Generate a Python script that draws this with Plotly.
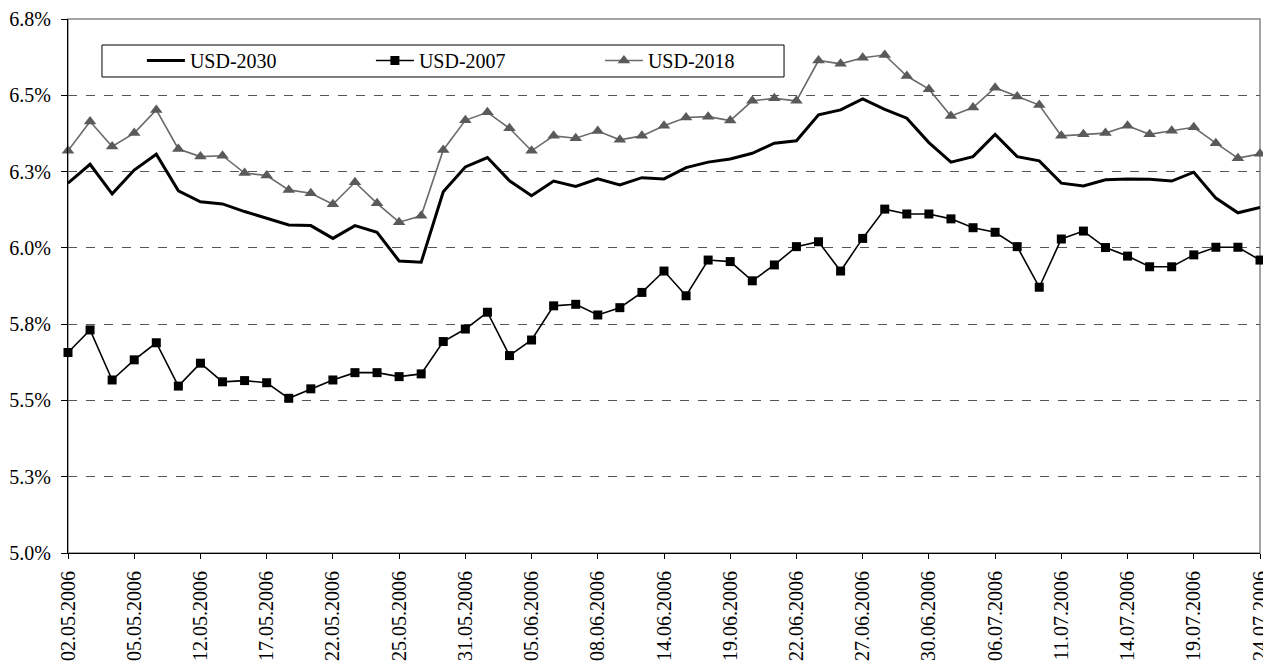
import plotly.graph_objects as go

dates = [
    "02.05.2006", "03.05.2006", "04.05.2006", "05.05.2006", "10.05.2006", "11.05.2006",
    "12.05.2006", "15.05.2006", "16.05.2006", "17.05.2006", "18.05.2006", "19.05.2006",
    "22.05.2006", "23.05.2006", "24.05.2006", "25.05.2006", "26.05.2006", "29.05.2006",
    "31.05.2006", "01.06.2006", "02.06.2006", "05.06.2006", "06.06.2006", "07.06.2006",
    "08.06.2006", "09.06.2006", "13.06.2006", "14.06.2006", "15.06.2006", "16.06.2006",
    "19.06.2006", "20.06.2006", "21.06.2006", "22.06.2006", "23.06.2006", "26.06.2006",
    "27.06.2006", "28.06.2006", "29.06.2006", "30.06.2006", "03.07.2006", "05.07.2006",
    "06.07.2006", "07.07.2006", "10.07.2006", "11.07.2006", "12.07.2006", "13.07.2006",
    "14.07.2006", "17.07.2006", "18.07.2006", "19.07.2006", "20.07.2006", "21.07.2006",
    "24.07.2006",
]

x_tick_labels = [
    "02.05.2006", "05.05.2006", "12.05.2006", "17.05.2006", "22.05.2006", "25.05.2006",
    "31.05.2006", "05.06.2006", "08.06.2006", "14.06.2006", "19.06.2006", "22.06.2006",
    "27.06.2006", "30.06.2006", "06.07.2006", "11.07.2006", "14.07.2006", "19.07.2006",
    "24.07.2006",
]

usd_2030 = [
    6.212, 6.274, 6.177, 6.255, 6.307, 6.187, 6.151, 6.144, 6.119, 6.097, 6.075, 6.073,
    6.031, 6.073, 6.051, 5.957, 5.953, 6.184, 6.265, 6.296, 6.220, 6.171, 6.219, 6.201,
    6.226, 6.206, 6.230, 6.226, 6.263, 6.281, 6.291, 6.310, 6.343, 6.351, 6.436, 6.452,
    6.488, 6.454, 6.425, 6.345, 6.281, 6.299, 6.372, 6.299, 6.285, 6.212, 6.203, 6.223,
    6.226, 6.225, 6.219, 6.248, 6.163, 6.115, 6.132,
]

usd_2007 = [
    5.657, 5.731, 5.567, 5.633, 5.689, 5.547, 5.622, 5.561, 5.565, 5.558, 5.507, 5.538,
    5.567, 5.591, 5.591, 5.578, 5.587, 5.693, 5.734, 5.789, 5.647, 5.698, 5.810, 5.815,
    5.780, 5.804, 5.854, 5.924, 5.843, 5.960, 5.955, 5.892, 5.944, 6.004, 6.020, 5.924,
    6.031, 6.127, 6.111, 6.111, 6.095, 6.066, 6.051, 6.004, 5.871, 6.029, 6.055, 6.001,
    5.973, 5.938, 5.938, 5.977, 6.002, 6.002, 5.960,
]

usd_2018 = [
    6.318, 6.414, 6.332, 6.376, 6.452, 6.324, 6.299, 6.302, 6.245, 6.237, 6.190, 6.179,
    6.143, 6.215, 6.146, 6.084, 6.105, 6.321, 6.418, 6.444, 6.392, 6.318, 6.367, 6.359,
    6.383, 6.354, 6.367, 6.400, 6.427, 6.430, 6.417, 6.482, 6.490, 6.482, 6.614, 6.603,
    6.623, 6.632, 6.563, 6.520, 6.432, 6.460, 6.525, 6.496, 6.468, 6.367, 6.372, 6.376,
    6.400, 6.372, 6.384, 6.395, 6.343, 6.294, 6.308,
]

y_tick_values = [5.0, 5.25, 5.5, 5.75, 6.0, 6.25, 6.5, 6.75]
y_tick_labels = ["5.0%", "5.3%", "5.5%", "5.8%", "6.0%", "6.3%", "6.5%", "6.8%"]

FONT = "Liberation Serif, Times New Roman, serif"

fig = go.Figure()
fig.add_trace(go.Scatter(
    x=dates, y=usd_2030, name="USD-2030", mode="lines",
    line=dict(color="black", width=3), cliponaxis=False,
))
fig.add_trace(go.Scatter(
    x=dates, y=usd_2007, name="USD-2007", mode="lines+markers",
    line=dict(color="black", width=1.6),
    marker=dict(symbol="square", size=9, color="black"), cliponaxis=False,
))
fig.add_trace(go.Scatter(
    x=dates, y=usd_2018, name="USD-2018", mode="lines+markers",
    line=dict(color="#6a6a6a", width=1.6),
    marker=dict(symbol="triangle-up", size=11, color="#5a5a5a"), cliponaxis=False,
))

fig.update_layout(
    template="none",
    width=1263, height=658,
    margin=dict(l=60, r=11, t=11, b=113, pad=0),
    paper_bgcolor="white", plot_bgcolor="white",
    font=dict(family=FONT, size=20, color="black"),
    showlegend=True,
    legend=dict(
        orientation="h", x=0.062, y=0.9588, xanchor="left", yanchor="top",
        borderwidth=0, bgcolor="rgba(0,0,0,0)",
        font=dict(family=FONT, size=20, color="black"),
        entrywidth=176, entrywidthmode="pixels", itemwidth=38,
        traceorder="normal",
    ),
    xaxis=dict(
        type="category", categoryorder="array", categoryarray=dates,
        range=[0, len(dates) - 1], automargin=False,
        tickmode="array", tickvals=x_tick_labels, ticktext=x_tick_labels,
        tickangle=-90, ticks="outside", ticklen=5, tickcolor="black", tickwidth=1,
        showline=True, linecolor="black", linewidth=1,
        showgrid=False, zeroline=False, ticklabelstandoff=4,
    ),
    yaxis=dict(
        range=[5.0, 6.75], tickmode="array", automargin=False,
        tickvals=y_tick_values, ticktext=y_tick_labels,
        ticks="outside", ticklen=6, tickcolor="black", tickwidth=1,
        showline=True, linecolor="black", linewidth=1,
        showgrid=True, gridcolor="#555555", griddash="dash", gridwidth=1,
        zeroline=False, ticklabelstandoff=6,
    ),
    shapes=[
        dict(
            type="rect", xref="paper", yref="paper", x0=0, x1=1, y0=0, y1=1,
            line=dict(color="#888888", width=1.5), layer="below",
        ),
        dict(
            type="rect", xref="paper", yref="paper",
            x0=0.0285, x1=0.6007, y0=0.8914, y1=0.9513,
            line=dict(color="black", width=1), fillcolor="white", layer="between",
        ),
    ],
)

fig.write_html("out.html")
